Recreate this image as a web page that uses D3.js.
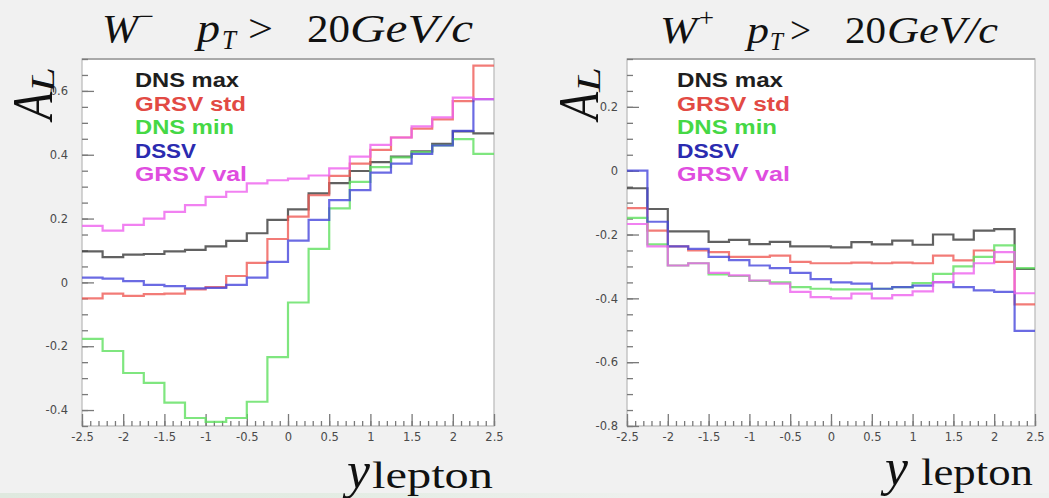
<!DOCTYPE html>
<html><head><meta charset="utf-8">
<script src="https://cdn.jsdelivr.net/npm/d3@7"></script>
<style>html,body{margin:0;padding:0;background:#f1f1f1;} svg{display:block;}</style>
</head><body>
<svg id="c" width="1049" height="498"></svg>
<script>
// ---- data ----
const binLow = [-2.5,-2.25,-2,-1.75,-1.5,-1.25,-1,-0.75,-0.5,-0.25,0,0.25,0.5,0.75,1,1.25,1.5,1.75,2,2.25];
const binWidth = 0.25;
const seriesNames = ["DNS max","GRSV std","DNS min","DSSV","GRSV val"];

// W- panel
const wmDnsMax  = [0.097,0.079,0.087,0.089,0.097,0.102,0.113,0.130,0.154,0.196,0.229,0.279,0.311,0.349,0.377,0.394,0.411,0.434,0.473,0.467];
const wmGrsvStd = [-0.050,-0.035,-0.042,-0.037,-0.035,-0.022,-0.015,0.020,0.061,0.136,0.206,0.273,0.334,0.372,0.415,0.454,0.482,0.511,0.568,0.679];
const wmDnsMin  = [-0.177,-0.215,-0.284,-0.315,-0.377,-0.425,-0.437,-0.425,-0.374,-0.234,-0.063,0.105,0.232,0.315,0.361,0.392,0.408,0.429,0.449,0.403];
const wmDssv    = [0.015,0.012,0.004,-0.008,-0.012,-0.019,-0.017,-0.008,0.015,0.064,0.131,0.196,0.258,0.289,0.344,0.372,0.403,0.429,0.475,0.574];
const wmGrsvVal = [0.177,0.162,0.180,0.200,0.221,0.242,0.268,0.284,0.310,0.320,0.325,0.335,0.357,0.394,0.431,0.454,0.489,0.517,0.579,0.574];

// W+ panel
const wpDnsMax  = [-0.055,-0.120,-0.190,-0.190,-0.223,-0.217,-0.230,-0.223,-0.237,-0.237,-0.240,-0.224,-0.231,-0.219,-0.232,-0.200,-0.216,-0.188,-0.183,-0.308];
const wpGrsvStd = [-0.117,-0.188,-0.237,-0.250,-0.255,-0.270,-0.270,-0.266,-0.286,-0.290,-0.290,-0.288,-0.290,-0.288,-0.290,-0.266,-0.281,-0.250,-0.286,-0.419];
const wpDnsMin  = [-0.148,-0.231,-0.297,-0.290,-0.325,-0.330,-0.345,-0.350,-0.365,-0.370,-0.372,-0.372,-0.370,-0.365,-0.352,-0.323,-0.300,-0.270,-0.234,-0.305];
const wpDssv    = [0.000,-0.160,-0.237,-0.245,-0.270,-0.280,-0.297,-0.305,-0.320,-0.340,-0.350,-0.354,-0.370,-0.365,-0.360,-0.349,-0.365,-0.375,-0.380,-0.502];
const wpGrsvVal = [-0.167,-0.237,-0.297,-0.290,-0.320,-0.328,-0.344,-0.354,-0.380,-0.396,-0.400,-0.385,-0.400,-0.390,-0.378,-0.349,-0.322,-0.290,-0.255,-0.384];

const xTicks = [-2.5,-2,-1.5,-1,-0.5,0,0.5,1,1.5,2,2.5];
const xTickLabels = ["-2.5","-2","-1.5","-1","-0.5","0","0.5","1","1.5","2","2.5"];
const wmYTicks = [-0.4,-0.2,0,0.2,0.4,0.6];
const wmYTickLabels = ["-0.4","-0.2","0","0.2","0.4","0.6"];
const wpYTicks = [-0.8,-0.6,-0.4,-0.2,0,0.2];
const wpYTickLabels = ["-0.8","-0.6","-0.4","-0.2","0","0.2"];

const lineColors = ["#3a3a3a","#ef5a55","#5fe05f","#4646dc","#ee62ee"];
const textColors = ["#1e1e1e","#e24a44","#45d845","#2b2bb0","#df4ddf"];

// ---- drawing ----
const svg = d3.select("#c");
const defs = svg.append("defs");
const grad = defs.append("linearGradient").attr("id","bstrip");
grad.append("stop").attr("offset","0%").attr("stop-color","#dfe9df");
grad.append("stop").attr("offset","30%").attr("stop-color","#e3ece3");
grad.append("stop").attr("offset","60%").attr("stop-color","#edf0ed");
grad.append("stop").attr("offset","100%").attr("stop-color","#eef0ee");
svg.append("rect").attr("x",0).attr("y",493).attr("width",1049).attr("height",5).attr("fill","url(#bstrip)");

function txt(g, s, x, y, o) {
  const t = g.append("text").attr("x", x).attr("y", y).text(s)
    .style("font-family", o.family || "'Liberation Serif', serif")
    .style("font-size", o.size + "px")
    .style("font-style", o.italic ? "italic" : "normal")
    .style("font-weight", o.bold ? "bold" : "normal")
    .attr("fill", o.fill || "#111");
  if (o.w) t.attr("textLength", o.w).attr("lengthAdjust", "spacingAndGlyphs");
  return t;
}

const panels = [
  { id:"wm", x0:82, x1:494, y0:59, y1:426, yDomain:[-0.45,0.7], yTicks:wmYTicks, yLabels:wmYTickLabels, yPad:14,
    series:[wmDnsMax,wmGrsvStd,wmDnsMin,wmDssv,wmGrsvVal], legX:135,
    legW:[104,111,99,61,112],
    title:{ size:40, base:42, sup:"\u2212", W:[102,36], S:[139,15], p:[197,23], T:[222,14], gt:[248,25], n:[307,43], u:[350,123] },
    yl:{ x:52, y:120 }, xl:{ y:[347,23], l:[372,121], base:488 } },
  { id:"wp", x0:627, x1:1035, y0:59, y1:426, yDomain:[-0.8,0.35], yTicks:wpYTicks, yLabels:wpYTickLabels, yPad:9,
    series:[wpDnsMax,wpGrsvStd,wpDnsMin,wpDssv,wpGrsvVal], legX:677,
    legW:[106,113,100,62,113],
    title:{ size:37, base:43, sup:"+", W:[660,37], S:[699,15], p:[747,22], T:[770,13], gt:[790,21], n:[845,41], u:[887,111] },
    yl:{ x:598, y:120 }, xl:{ y:[885,23], l:[921,112], base:485 } }
];

panels.forEach(P => {
  const g = svg.append("g");
  const x = d3.scaleLinear().domain([-2.5, 2.5]).range([P.x0, P.x1]);
  const y = d3.scaleLinear().domain(P.yDomain).range([P.y1, P.y0]);

  g.append("rect").attr("x",P.x0).attr("y",P.y0).attr("width",P.x1-P.x0).attr("height",P.y1-P.y0)
    .attr("fill","#ffffff").attr("stroke","#bdbdbd").attr("stroke-width",1.3);
  g.append("line").attr("x1",P.x0).attr("x2",P.x1).attr("y1",P.y0).attr("y2",P.y0)
    .attr("stroke","#a9a9a9").attr("stroke-width",2);

  // minor ticks
  const xMinor = d3.range(-25, 26).map(k => k/10);
  const yMinor = d3.range(Math.ceil(P.yDomain[0]*20), Math.floor(P.yDomain[1]*20)+1).map(k => k/20);
  const axStyle = sel => { sel.select(".domain").remove(); sel.selectAll("line").attr("stroke","#7a7a7a").attr("stroke-width",1.3); };
  g.append("g").attr("transform",`translate(0,${P.y1})`)
    .call(d3.axisBottom(x).tickValues(xMinor).tickSize(-5).tickFormat("")).call(axStyle);
  g.append("g").attr("transform",`translate(${P.x0},0)`)
    .call(d3.axisLeft(y).tickValues(yMinor).tickSize(-6).tickFormat("")).call(axStyle);
  // major ticks
  const xa = g.append("g").attr("transform",`translate(0,${P.y1})`)
    .call(d3.axisBottom(x).tickValues(xTicks).tickSize(-12).tickPadding(7).tickFormat((d,i)=>xTickLabels[i])).call(axStyle);
  const ya = g.append("g").attr("transform",`translate(${P.x0},0)`)
    .call(d3.axisLeft(y).tickValues(P.yTicks).tickSize(-12).tickPadding(P.yPad).tickFormat((d,i)=>P.yLabels[i])).call(axStyle);
  [xa, ya].forEach(a => a.selectAll("text").attr("fill","#4a4a4a")
      .style("font-family","'DejaVu Sans', sans-serif").style("font-size","11.5px"));

  // clip
  const cid = "clip-" + P.id;
  defs.append("clipPath").attr("id", cid).append("rect")
    .attr("x",P.x0).attr("y",P.y0).attr("width",P.x1-P.x0).attr("height",P.y1-P.y0);

  const line = d3.line().x(d => x(d[0])).y(d => y(d[1])).curve(d3.curveStepAfter);
  P.series.forEach((vals, si) => {
    const pts = binLow.map((b, i) => [b, vals[i]]);
    pts.push([binLow[binLow.length-1] + binWidth, vals[vals.length-1]]);
    g.append("path").attr("d", line(pts)).attr("fill","none")
      .attr("stroke", lineColors[si]).attr("stroke-width", 2.2).attr("stroke-opacity", 0.8)
      .attr("clip-path", `url(#${cid})`);
  });

  // legend
  seriesNames.forEach((n, i) => {
    txt(g, n, P.legX, 87 + 23.5*i, { family:"'Liberation Sans', Arial, sans-serif", size:20, bold:true, fill:textColors[i], w:P.legW[i] });
  });

  // title
  const T = P.title;
  txt(g, "W", T.W[0], T.base, { size:T.size, italic:true, w:T.W[1] });
  txt(g, T.sup, T.S[0], T.base - 17, { size:T.size*0.66, w:T.S[1] });
  txt(g, "p", T.p[0], T.base, { size:T.size, italic:true, w:T.p[1] });
  txt(g, "T", T.T[0], T.base + 7, { size:T.size*0.68, italic:true, w:T.T[1] });
  txt(g, ">", T.gt[0], T.base, { size:T.size, w:T.gt[1] });
  txt(g, "20", T.n[0], T.base, { size:T.size, w:T.n[1] });
  txt(g, "GeV/c", T.u[0], T.base, { size:T.size, italic:true, w:T.u[1] });

  // y label A_L (rotated)
  const yl = g.append("g").attr("transform", `translate(${P.yl.x},${P.yl.y}) rotate(-90)`);
  txt(yl, "A", 0, 0, { size:56, italic:true, w:28 });
  txt(yl, "L", 28, 2, { size:34, italic:true, w:25 });

  // x label y_lepton
  txt(g, "y", P.xl.y[0], P.xl.base, { size:52, italic:true, w:P.xl.y[1] });
  txt(g, "lepton", P.xl.l[0], P.xl.base, { size:38, w:P.xl.l[1] });
});
</script>
</body></html>
